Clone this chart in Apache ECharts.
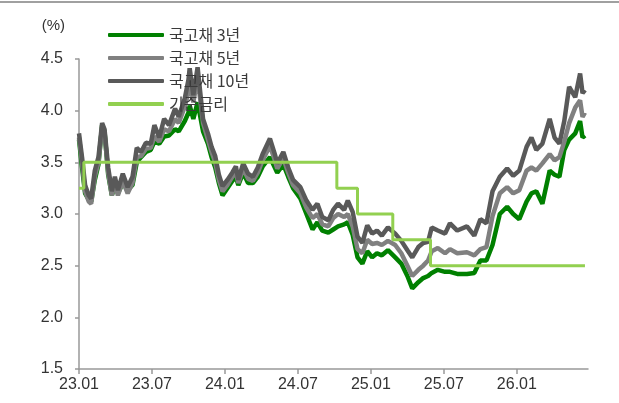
<!DOCTYPE html>
<html>
<head>
<meta charset="utf-8">
<script src="https://cdn.jsdelivr.net/npm/echarts@6/dist/echarts.min.js"></script>
<style>
  html, body { margin: 0; padding: 0; background: #fff; }
  #chart { width: 619px; height: 403px; }
</style>
</head>
<body>
<div id="chart"></div>
<script>
"use strict";

/* x = months since 2023.01 */
var months = [0.0, 0.25, 0.5, 0.8, 1.0, 1.3, 1.6, 1.9, 2.1, 2.4, 2.7, 2.95, 3.2, 3.6, 4.0, 4.4, 4.75, 5.1, 5.5, 5.9,
  6.2, 6.6, 7.0, 7.4, 7.9, 8.2, 8.7, 9.0, 9.1, 9.4, 9.75, 10.2, 10.6, 10.9, 11.2, 11.5, 11.8, 12.2, 12.6, 12.9,
  13.1, 13.5, 13.9, 14.3, 14.7, 15.1, 15.7, 16.1, 16.3, 16.8, 17.2, 17.6, 18.2, 18.7, 19.2, 19.6, 20.0, 20.5, 20.9, 21.3,
  21.8, 22.1, 22.5, 22.9, 23.3, 23.7, 24.1, 24.5, 24.9, 25.4, 26.0, 26.5, 27.0, 27.4, 27.9, 28.3, 28.7, 29.0, 29.5, 30.1,
  30.5, 31.1, 31.9, 32.5, 33.0, 33.5, 34.0, 34.6, 35.2, 35.7, 36.2, 36.8, 37.2, 37.6, 38.1, 38.7, 39.1, 39.5, 39.9, 40.3,
  40.8, 41.2, 41.4, 41.6];

var ktb10 = [3.78, 3.55, 3.28, 3.18, 3.15, 3.42, 3.55, 3.88, 3.82, 3.45, 3.22, 3.36, 3.23, 3.39, 3.26, 3.36, 3.64, 3.60, 3.69, 3.68,
  3.86, 3.74, 3.92, 3.86, 4.02, 3.94, 4.12, 4.30, 4.41, 4.15, 4.42, 3.92, 3.78, 3.65, 3.56, 3.38, 3.27, 3.33, 3.40, 3.46,
  3.33, 3.49, 3.39, 3.36, 3.45, 3.58, 3.73, 3.58, 3.49, 3.60, 3.45, 3.33, 3.26, 3.13, 3.04, 3.10, 2.97, 2.94, 3.04, 3.10,
  3.04, 3.13, 3.02, 2.78, 2.72, 2.89, 2.81, 2.84, 2.79, 2.87, 2.81, 2.74, 2.65, 2.58, 2.68, 2.72, 2.73, 2.87, 2.84, 2.81,
  2.91, 2.84, 2.88, 2.79, 2.95, 2.91, 3.22, 3.36, 3.44, 3.37, 3.42, 3.65, 3.74, 3.62, 3.68, 3.92, 3.74, 3.68, 3.90, 4.23,
  4.13, 4.36, 4.17, 4.20];

var ktb5 = [3.74, 3.50, 3.22, 3.12, 3.10, 3.36, 3.50, 3.84, 3.78, 3.40, 3.18, 3.30, 3.18, 3.32, 3.20, 3.30, 3.55, 3.56, 3.63, 3.64,
  3.75, 3.70, 3.82, 3.80, 3.92, 3.88, 4.04, 4.18, 4.30, 4.08, 4.32, 3.88, 3.72, 3.60, 3.50, 3.33, 3.22, 3.28, 3.36, 3.40,
  3.30, 3.44, 3.34, 3.32, 3.40, 3.52, 3.66, 3.52, 3.44, 3.54, 3.40, 3.28, 3.20, 3.06, 2.96, 3.00, 2.90, 2.88, 2.96, 3.00,
  2.97, 3.00, 2.88, 2.66, 2.62, 2.75, 2.71, 2.72, 2.70, 2.74, 2.70, 2.62, 2.50, 2.40, 2.46, 2.50, 2.55, 2.64, 2.67, 2.62,
  2.66, 2.62, 2.63, 2.60, 2.66, 2.68, 2.98, 3.20, 3.26, 3.20, 3.23, 3.42, 3.45, 3.42, 3.49, 3.58, 3.52, 3.55, 3.70, 3.88,
  4.03, 4.10, 3.94, 3.98];

var ktb3 = [3.72, 3.45, 3.20, 3.14, 3.12, 3.33, 3.48, 3.86, 3.80, 3.38, 3.18, 3.28, 3.20, 3.30, 3.23, 3.28, 3.50, 3.55, 3.60, 3.62,
  3.70, 3.68, 3.75, 3.76, 3.82, 3.80, 3.90, 3.98, 4.05, 3.92, 4.08, 3.80, 3.68, 3.55, 3.45, 3.30, 3.18, 3.25, 3.32, 3.36,
  3.28, 3.40, 3.30, 3.30, 3.36, 3.46, 3.55, 3.45, 3.40, 3.48, 3.36, 3.25, 3.15, 3.00, 2.85, 2.92, 2.84, 2.82, 2.85, 2.88,
  2.90, 2.92, 2.80, 2.58, 2.52, 2.64, 2.58, 2.62, 2.60, 2.65, 2.58, 2.52, 2.40, 2.28, 2.34, 2.38, 2.40, 2.43, 2.46, 2.44,
  2.44, 2.42, 2.42, 2.43, 2.55, 2.55, 2.70, 3.00, 3.07, 3.00, 2.95, 3.12, 3.20, 3.22, 3.10, 3.42, 3.38, 3.36, 3.62, 3.72,
  3.78, 3.90, 3.74, 3.76];

/* base rate steps: month, rate */
var baseMonths = [0.0, 0.4, 21.2, 22.9, 25.8, 28.9, 41.6];
var baseRate = [3.25, 3.50, 3.25, 3.00, 2.75, 2.50, 2.50];

var xTickLabels = ['23.01', '23.07', '24.01', '24.07', '25.01', '25.07', '26.01'];
var seriesNames = ['국고채 3년', '국고채 5년', '국고채 10년', '기준금리'];

var pairs = function(xs, ys) {
	var out = [];
	for (var i = 0; i < xs.length; i++) {
		out.push([xs[i], ys[i]]);
	}
	return out;
};

var xTickPos = [];
for (var i = 0; i < xTickLabels.length; i++) {
	xTickPos.push(i * 6);
}

var chart = echarts.init(document.getElementById('chart'));
var font = '"Liberation Sans", Arial, sans-serif';
var option = {
	animation: false,
	grid: { left: 79, right: 31, top: 59, bottom: 34 },
	legend: {
		orient: 'vertical',
		left: 103,
		top: 22,
		itemWidth: 56,
		itemHeight: 4,
		itemGap: 7,
		icon: 'roundRect',
		data: seriesNames,
		textStyle: { fontFamily: '"Noto Sans CJK KR", sans-serif', fontSize: 16, lineHeight: 16, color: '#3a3a3a' }
	},
	xAxis: {
		type: 'value',
		min: 0,
		max: 41.85,
		splitLine: { show: false },
		axisLine: { lineStyle: { color: '#999', width: 1.5 } },
		axisTick: { show: true, length: 5, customValues: xTickPos, lineStyle: { color: '#999', width: 1.5 } },
		axisLabel: {
			customValues: xTickPos,
			margin: 8,
			color: '#333',
			fontFamily: font,
			fontSize: 16,
			formatter: function(v) { return xTickLabels[Math.round(v / 6)]; }
		}
	},
	yAxis: {
		type: 'value',
		min: 1.5,
		max: 4.5,
		interval: 0.5,
		name: '(%)',
		nameLocation: 'end',
		nameGap: 26,
		nameTextStyle: { align: 'right', padding: [0, 14, 0, 0], color: '#333', fontFamily: font, fontSize: 15 },
		splitLine: { show: false },
		axisLine: { show: true, lineStyle: { color: '#999', width: 1.5 } },
		axisTick: { show: true, length: 4, lineStyle: { color: '#999', width: 1.5 } },
		axisLabel: {
			margin: 16,
			color: '#333',
			fontFamily: font,
			fontSize: 16,
			formatter: function(v) { return v.toFixed(1); }
		}
	},
	series: [
		{ name: seriesNames[0], type: 'line', data: pairs(months, ktb3), showSymbol: false, color: '#008000', lineStyle: { width: 4.5 } },
		{ name: seriesNames[1], type: 'line', data: pairs(months, ktb5), showSymbol: false, color: '#808080', lineStyle: { width: 4.5 } },
		{ name: seriesNames[2], type: 'line', data: pairs(months, ktb10), showSymbol: false, color: '#595959', lineStyle: { width: 4.5 } },
		{ name: seriesNames[3], type: 'line', step: 'end', data: pairs(baseMonths, baseRate), showSymbol: false, color: '#92d050', lineStyle: { width: 3 } }
	],
	graphic: [{
		type: 'rect',
		shape: { x: 0, y: 1, width: 619, height: 2 },
		style: { fill: '#a0a0a0' }
	}]
};
chart.setOption(option);
</script>
</body>
</html>
